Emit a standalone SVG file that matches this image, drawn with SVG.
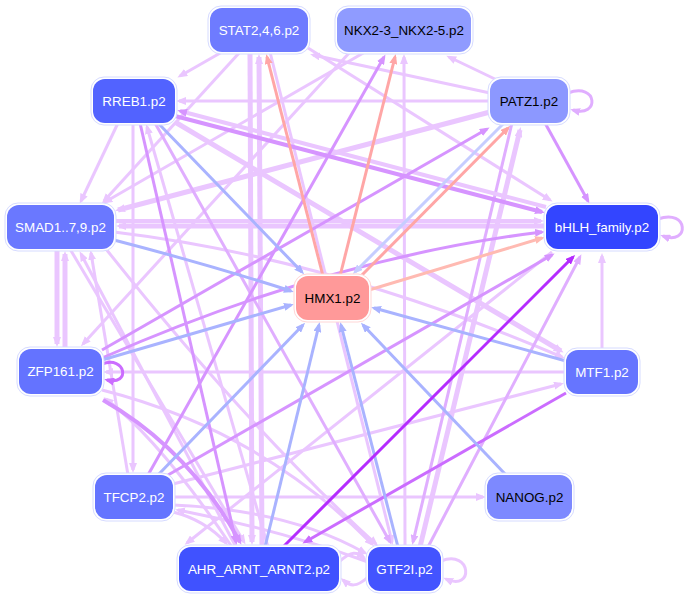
<svg xmlns="http://www.w3.org/2000/svg" width="689" height="599" viewBox="0 0 689 599">
<style>
.e{fill:none;stroke-width:3}
.w{stroke-width:5}
.e1{stroke:#eac6ff}.e2{stroke:#e0aeff}.e3{stroke:#d694ff}.e4{stroke:#cb6cff}.e5{stroke:#b52cff}
.eb{stroke:#a9b3ff}.eb2{stroke:#c6cdff}.er{stroke:#ffa6a6}.er2{stroke:#ffbab2}
.o{fill:#ffffff;stroke:#d6dbff;stroke-width:1}
.t{font-family:"Liberation Sans",Arial,sans-serif;font-size:13.4px;text-anchor:middle}
.lt{fill:#ffffff}.dk{fill:#000000}
</style>
<defs>
<marker id="m1" viewBox="0 0 10 8" refX="7" refY="4" markerWidth="10" markerHeight="8" markerUnits="userSpaceOnUse" orient="auto"><path d="M0,0L10,4L0,8z" fill="#eac6ff"/></marker>
<marker id="m2" viewBox="0 0 10 8" refX="7" refY="4" markerWidth="10" markerHeight="8" markerUnits="userSpaceOnUse" orient="auto"><path d="M0,0L10,4L0,8z" fill="#e0aeff"/></marker>
<marker id="m3" viewBox="0 0 10 8" refX="7" refY="4" markerWidth="10" markerHeight="8" markerUnits="userSpaceOnUse" orient="auto"><path d="M0,0L10,4L0,8z" fill="#d694ff"/></marker>
<marker id="m4" viewBox="0 0 10 8" refX="7" refY="4" markerWidth="10" markerHeight="8" markerUnits="userSpaceOnUse" orient="auto"><path d="M0,0L10,4L0,8z" fill="#cb6cff"/></marker>
<marker id="m5" viewBox="0 0 10 8" refX="7" refY="4" markerWidth="10" markerHeight="8" markerUnits="userSpaceOnUse" orient="auto"><path d="M0,0L10,4L0,8z" fill="#b52cff"/></marker>
<marker id="mb" viewBox="0 0 10 8" refX="7" refY="4" markerWidth="10" markerHeight="8" markerUnits="userSpaceOnUse" orient="auto"><path d="M0,0L10,4L0,8z" fill="#a9b3ff"/></marker>
<marker id="mb2" viewBox="0 0 10 8" refX="7" refY="4" markerWidth="10" markerHeight="8" markerUnits="userSpaceOnUse" orient="auto"><path d="M0,0L10,4L0,8z" fill="#c6cdff"/></marker>
<marker id="mr" viewBox="0 0 10 8" refX="7" refY="4" markerWidth="10" markerHeight="8" markerUnits="userSpaceOnUse" orient="auto"><path d="M0,0L10,4L0,8z" fill="#ffa6a6"/></marker>
<marker id="mr2" viewBox="0 0 10 8" refX="7" refY="4" markerWidth="10" markerHeight="8" markerUnits="userSpaceOnUse" orient="auto"><path d="M0,0L10,4L0,8z" fill="#ffbab2"/></marker>
</defs>
<g id="edges">
<path class="e e1" marker-end="url(#m1)" d="M222,52L180,76"/>
<path class="e e1" marker-end="url(#m1)" d="M240,52L104,201"/>
<path class="e e1 w" marker-end="url(#m1)" d="M250,52L252,542"/>
<path class="e e1 w" marker-end="url(#m1)" d="M262,547L259,57"/>
<path class="e e1" marker-end="url(#m1)" d="M270,52L392,542"/>
<path class="e e1" marker-end="url(#m1)" d="M308,48L550,200"/>
<path class="e e1" marker-end="url(#m1)" d="M490,93L313,55"/>
<path class="e e1" marker-end="url(#m1)" d="M497,80L449,57"/>
<path class="e e1" marker-end="url(#m1)" d="M490,101L179,101"/>
<path class="e e1 w" marker-end="url(#m1)" d="M490,112L118,210"/>
<path class="e e1" marker-end="url(#m1)" d="M365,52L105,202"/>
<path class="e e1" marker-end="url(#m1)" d="M350,52L83,344"/>
<path class="e e1" marker-end="url(#m1)" d="M405,547L404,57"/>
<path class="e e1" marker-end="url(#m1)" d="M118,123L81,201"/>
<path class="e e1" marker-end="url(#m1)" d="M133,123L133,470"/>
<path class="e e1" marker-end="url(#m1)" d="M268,547L147,127"/>
<path class="e e1 w" marker-end="url(#m1)" d="M175,122L561,351"/>
<path class="e e1 w" marker-end="url(#m1)" d="M546,226L119,226"/>
<path class="e e1" marker-end="url(#m1)" d="M114,232Q330,258 562,357"/>
<path class="e e1 w" marker-end="url(#m1)" d="M57,249L57,344"/>
<path class="e e1 w" marker-end="url(#m1)" d="M65,349L65,254"/>
<path class="e e1" marker-end="url(#m1)" d="M128,475L91,253"/>
<path class="e e1" marker-end="url(#m1)" d="M70,249L244,542"/>
<path class="e e1" marker-end="url(#m1)" d="M106,249Q250,430 376,544"/>
<path class="e e1" marker-end="url(#m1)" d="M236,547L81,254"/>
<path class="e e1" marker-end="url(#m1)" d="M566,372L106,372"/>
<path class="e e1" marker-end="url(#m1)" d="M232,547Q160,440 106,399"/>
<path class="e e1" marker-end="url(#m1)" d="M102,390Q260,430 372,544"/>
<path class="e e1" marker-end="url(#m1)" d="M173,497L483,497"/>
<path class="e e1" marker-end="url(#m1)" d="M173,484L561,384"/>
<path class="e e1" marker-end="url(#m1)" d="M173,505Q290,510 365,553"/>
<path class="e e1" marker-end="url(#m1)" d="M368,562Q280,530 178,510"/>
<path class="e e1" marker-end="url(#m1)" d="M173,512Q205,520 226,543"/>
<path class="e e1 w" marker-end="url(#m1)" d="M420,547L520,130"/>
<path class="e e1" marker-end="url(#m1)" d="M552,252L187,543"/>
<path class="e e1" marker-end="url(#m1)" d="M602,350L602,256"/>
<path class="e e1" marker-end="url(#m1)" d="M339,562C352,550 357,552 364,558"/>
<path class="e e1" marker-end="url(#m1)" d="M368,577C356,588 350,586 343,580"/>
<path class="e e1" marker-end="url(#m1)" d="M441,561C472,549 474,592 446,579"/>
<path class="e e1" style="stroke-width:4" marker-end="url(#m1)" d="M114,221L541,221"/>
<path class="e e2" marker-end="url(#m2)" d="M155,123L390,542"/>
<path class="e e2" marker-end="url(#m2)" d="M512,123L413,542"/>
<path class="e e2" marker-end="url(#m2)" d="M428,547L580,257"/>
<path class="e e2" marker-end="url(#m2)" d="M568,93C598,82 600,118 573,110"/>
<path class="e e2" marker-end="url(#m2)" d="M658,219C689,208 690,246 663,236"/>
<path class="e e3" marker-end="url(#m3)" d="M545,123L588,201"/>
<path class="e e3" style="stroke-width:4" marker-end="url(#m3)" d="M175,116L542,212"/>
<path class="e e1" style="stroke-width:4" marker-end="url(#m3)" d="M546,207L180,111"/>
<path class="e e3" marker-end="url(#m3)" d="M148,475L384,57"/>
<path class="e e3" marker-end="url(#m3)" d="M140,123L236,542"/>
<path class="e e3" marker-end="url(#m3)" d="M102,350L487,129"/>
<path class="e e3" marker-end="url(#m3)" d="M102,358Q330,258 542,232"/>
<path class="e e3" style="stroke-width:4" marker-end="url(#m3)" d="M103,400Q190,450 240,542"/>
<path class="e e3" marker-end="url(#m3)" d="M168,475L552,255"/>
<path class="e e4" marker-end="url(#m4)" d="M102,364C126,355 131,386 107,380"/>
<path class="e e4" marker-end="url(#m4)" d="M566,393L305,542"/>
<path class="e eb" marker-end="url(#mb)" d="M158,123L302,272"/>
<path class="e eb" marker-end="url(#mb)" d="M114,240Q210,265 291,291"/>
<path class="e eb" marker-end="url(#mb)" d="M102,360L291,305"/>
<path class="e eb" marker-end="url(#mb)" d="M158,475L303,325"/>
<path class="e eb" marker-end="url(#mb)" d="M265,547L319,325"/>
<path class="e eb" marker-end="url(#mb)" d="M398,547L341,325"/>
<path class="e eb" marker-end="url(#mb)" d="M506,475L363,325"/>
<path class="e eb" marker-end="url(#mb)" d="M566,361L374,308"/>
<path class="e eb2" marker-end="url(#mb2)" d="M504,123L355,272"/>
<path class="e er" marker-end="url(#mr)" d="M323,276L267,57"/>
<path class="e er" marker-end="url(#mr)" d="M340,276L395,57"/>
<path class="e er" marker-end="url(#mr)" d="M361,276L508,128"/>
<path class="e er2" marker-end="url(#mr2)" d="M369,290L542,238"/>
<path class="e e5" marker-end="url(#m5)" d="M283,547L573,257"/>
</g>
<g id="n-stat"><rect class="o" x="208" y="6" width="102" height="48" rx="13"/><rect x="210" y="8" width="98" height="44" rx="12" fill="#6e7bff"/><text class="t lt" x="259" y="34.5">STAT2,4,6.p2</text></g>
<g id="n-nkx"><rect class="o" x="335" y="6" width="138" height="48" rx="13"/><rect x="337" y="8" width="134" height="44" rx="12" fill="#8f9bff"/><text class="t dk" x="404" y="34.5">NKX2-3_NKX2-5.p2</text></g>
<g id="n-rreb1"><rect class="o" x="91" y="77" width="86" height="48" rx="13"/><rect x="93" y="79" width="82" height="44" rx="12" fill="#5263ff"/><text class="t lt" x="134" y="105.5">RREB1.p2</text></g>
<g id="n-patz1"><rect class="o" x="488" y="77" width="82" height="48" rx="13"/><rect x="490" y="79" width="78" height="44" rx="12" fill="#8c98ff"/><text class="t dk" x="529" y="105.5">PATZ1.p2</text></g>
<g id="n-smad"><rect class="o" x="5" y="203" width="111" height="48" rx="13"/><rect x="7" y="205" width="107" height="44" rx="12" fill="#6a78ff"/><text class="t lt" x="60.5" y="231.5">SMAD1..7,9.p2</text></g>
<g id="n-bhlh"><rect class="o" x="544" y="203" width="116" height="48" rx="13"/><rect x="546" y="205" width="112" height="44" rx="12" fill="#3345ff"/><text class="t lt" x="602" y="231.5">bHLH_family.p2</text></g>
<g id="n-hmx1"><rect x="294" y="274" width="77" height="48" rx="13" fill="#ffffff" stroke="#ffd6d6" stroke-width="1"/><rect x="296" y="276" width="73" height="44" rx="12" fill="#ff9999"/><text class="t dk" x="332.5" y="302.5">HMX1.p2</text></g>
<g id="n-zfp161"><rect class="o" x="17" y="347" width="87" height="49" rx="13"/><rect x="19" y="349" width="83" height="45" rx="12" fill="#6473ff"/><text class="t lt" x="60.5" y="376">ZFP161.p2</text></g>
<g id="n-mtf1"><rect class="o" x="564" y="348" width="76" height="48" rx="13"/><rect x="566" y="350" width="72" height="44" rx="12" fill="#6675ff"/><text class="t lt" x="602" y="376.5">MTF1.p2</text></g>
<g id="n-tfcp2"><rect class="o" x="93" y="473" width="82" height="48" rx="13"/><rect x="95" y="475" width="78" height="44" rx="12" fill="#6474ff"/><text class="t lt" x="134" y="501.5">TFCP2.p2</text></g>
<g id="n-nanog"><rect class="o" x="485" y="473" width="89" height="48" rx="13"/><rect x="487" y="475" width="85" height="44" rx="12" fill="#7d89ff"/><text class="t dk" x="529.5" y="501.5">NANOG.p2</text></g>
<g id="n-ahr"><rect class="o" x="177" y="545" width="164" height="48" rx="13"/><rect x="179" y="547" width="160" height="44" rx="12" fill="#4052ff"/><text class="t lt" x="259" y="573.5">AHR_ARNT_ARNT2.p2</text></g>
<g id="n-gtf2i"><rect class="o" x="366" y="545" width="77" height="48" rx="13"/><rect x="368" y="547" width="73" height="44" rx="12" fill="#4354ff"/><text class="t lt" x="404.5" y="573.5">GTF2I.p2</text></g>
</svg>
